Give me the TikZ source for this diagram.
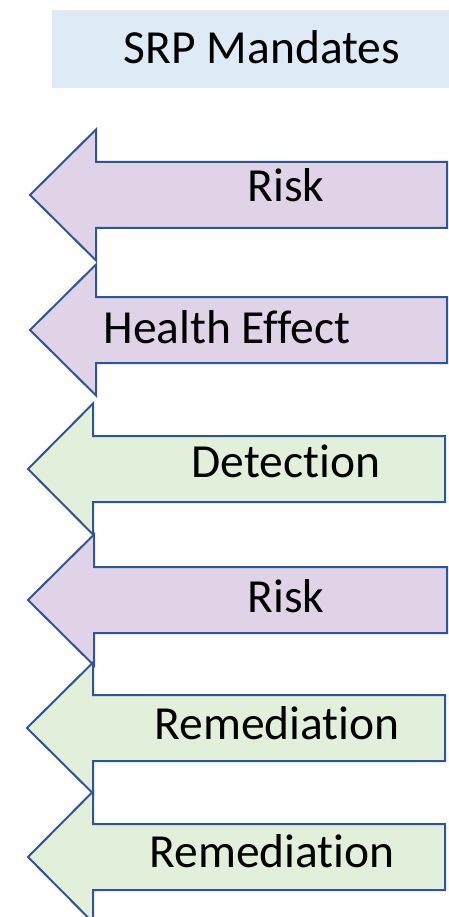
\documentclass[tikz,border=0pt]{standalone}
\usepackage{fontspec}
\setmainfont{Carlito}[Ligatures=CommonOff]

\definecolor{mandateblue}{HTML}{DEEBF7}
\definecolor{riskpurple}{HTML}{E0D3E8}
\definecolor{actgreen}{HTML}{E2EFDA}
\definecolor{edgeblue}{HTML}{2F5597}

\tikzset{
    arrowshape/.style={draw=edgeblue, line width=2pt, line join=miter},
    label/.style={anchor=base, inner sep=0pt, font=\fontsize{47.5}{56}\selectfont}
}

\begin{document}
\begin{tikzpicture}[x=1pt, y=-1pt]
    \useasboundingbox (0,0) rectangle (449,917);

    % Header
    \fill[mandateblue] (52,10) rectangle (449,88);
    \node[label] (title) at (262,64) {SRP Mandates};

    % Arrows: centre / tip / head / right end / fill / text / text x / baseline
    \foreach \c/\tip/\head/\rt/\fillc/\lbl/\tx/\bl [count=\i] in {
        195/30/96/447/riskpurple/Risk/286/202,
        330/30/96/447/riskpurple/Health Effect/227/343,
        469/28/93/445/actgreen/Detection/286/477,
        600/28/94/447/riskpurple/Risk/286/612,
        728/27/93/445/actgreen/Remediation/277/739,
        857/28/93/445/actgreen/Remediation/272/867} {
        \draw[arrowshape, fill=\fillc] (\rt,\c-33) -- (\head,\c-33) -- (\head,\c-65.5)
            -- (\tip,\c) -- (\head,\c+65.5) -- (\head,\c+33) -- (\rt,\c+33) -- cycle;
        \node[label] (mandate\i) at (\tx,\bl) {\lbl};
    }
\end{tikzpicture}
\end{document}
